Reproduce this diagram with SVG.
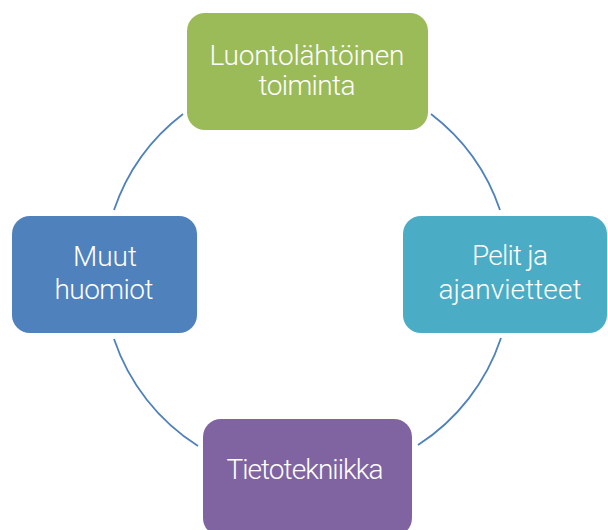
<svg xmlns="http://www.w3.org/2000/svg" width="608" height="530" viewBox="0 0 608 530">
  <style>
    .box { stroke: none; }
    .lbl { fill: #ffffff; font-family: Roboto, "Liberation Sans", sans-serif; font-weight: 300; font-size: 28px; text-anchor: middle; }
    .arc { fill: none; stroke: #4F81BD; stroke-width: 1.8; }
  </style>
  <rect width="608" height="530" fill="#ffffff"/>

  <!-- cycle connectors: arcs of one circle centred at (307.5, 274.5) -->
  <g id="connectors">
    <path class="arc" d="M183,114 A203.5,203.5 0 0 0 114,210"/>
    <path class="arc" d="M431,114 A203.5,203.5 0 0 1 500,210"/>
    <path class="arc" d="M501,338 A203.5,203.5 0 0 1 418,445"/>
    <path class="arc" d="M114,339 A203.5,203.5 0 0 0 198,446"/>
  </g>

  <g id="node-luonto">
    <rect class="box" x="187" y="13" width="241" height="117" rx="18" fill="#9BBB59"/>
    <text class="lbl" x="307" y="65" textLength="195">Luontolähtöinen</text>
    <text class="lbl" x="307" y="95" textLength="97">toiminta</text>
  </g>

  <g id="node-pelit">
    <rect class="box" x="403" y="216" width="204" height="117" rx="18" fill="#4BACC6"/>
    <text class="lbl" x="510" y="265" textLength="76">Pelit ja</text>
    <text class="lbl" x="510" y="299" textLength="143">ajanvietteet</text>
  </g>

  <g id="node-muut">
    <rect class="box" x="12" y="216" width="185" height="117" rx="18" fill="#4F81BD"/>
    <text class="lbl" x="105" y="266" textLength="64">Muut</text>
    <text class="lbl" x="104" y="299" textLength="99">huomiot</text>
  </g>

  <g id="node-tieto">
    <rect class="box" x="203" y="419" width="209" height="117" rx="18" fill="#8064A2"/>
    <text class="lbl" x="305" y="479" textLength="157">Tietotekniikka</text>
  </g>
</svg>
